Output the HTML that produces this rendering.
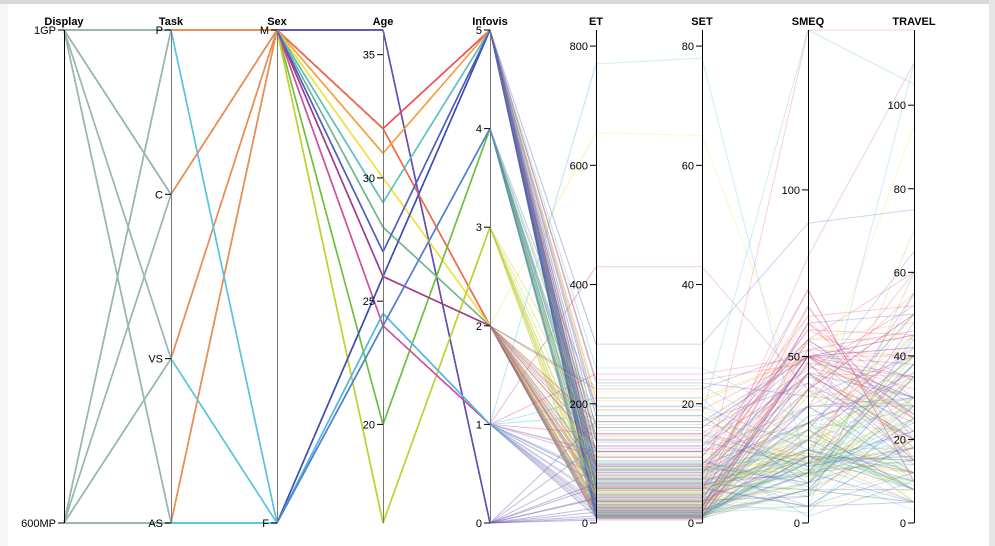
<!DOCTYPE html>
<html><head><meta charset="utf-8">
<style>
html,body{margin:0;padding:0;background:#fff;}
body{width:995px;height:546px;overflow:hidden;position:relative;font-family:"Liberation Sans",sans-serif;}
#frame-top{position:absolute;left:0;top:0;width:995px;height:4px;background:#d8d8d8;}
#frame-right{position:absolute;right:0;top:0;width:6px;height:546px;background:#e6e6e6;}
#frame-left{position:absolute;left:0;top:4px;width:8px;height:542px;background:#f6f6f6;}
svg{position:absolute;left:0;top:0;}
.tick text{font-size:11px;fill:#000;}
.hdr{font-size:8px;font-weight:bold;fill:#000;}
</style></head>
<body>
<div id="frame-top"></div>
<div id="frame-left"></div>
<div id="frame-right"></div>
<svg id="chart" width="995" height="546"></svg>
<script>
// ---- participant data ----
const pDisplay = ["1GP","1GP","600MP","1GP","600MP","1GP","600MP","1GP","600MP","1GP","600MP","1GP","600MP","1GP","600MP"];
const pTask = ["P","C","VS","AS","P","C","AS","VS","P","C","AS","P","VS","AS","C"];
const pSex = ["M","M","M","M","M","M","M","M","M","M","M","F","F","F","M"];
const pAge = [36,32,32,31,30,29,28,20,16,26,24,26,24.5,24,27];
const pInfovis = [0,5,2,5,2,5,2,4,3,2,1,5,1,4,5];
const pColor = ["#6a4fb0","#f0505a","#f06a50","#f5a040","#f0e040","#60c0c0","#70b890","#70c040","#c0d030","#a04090","#d050a0","#4050b0","#50b8e0","#5080d0","#5060c0"];
// ---- trial data ----
const trialP = [0,0,0,0,0,0,0,0,1,1,1,1,1,1,1,1,2,2,2,2,2,2,2,2,3,3,3,3,3,3,3,3,4,4,4,4,4,4,4,4,5,5,5,5,5,5,5,5,6,6,6,6,6,6,6,6,7,7,7,7,7,7,7,7,8,8,8,8,8,8,8,8,9,9,9,9,9,9,9,9,10,10,10,10,10,10,10,10,11,11,11,11,11,11,11,11,12,12,12,12,12,12,12,12,13,13,13,13,13,13,13,13,14,14,14,14,14,14,14,14,
 0,0,0,0,1,1,1,1,2,2,2,2,3,3,3,3,4,4,4,4,5,5,5,5,6,6,6,6,7,7,7,7,8,8,8,8,9,9,9,9,10,10,10,10,11,11,11,11,12,12,12,12,13,13,13,13,14,14,14,14];
const trialET = [12,25,8,40,60,18,90,5, 30,55,14,80,120,22,10,45, 20,35,70,9,150,28,60,15, 40,18,95,7,65,25,210,33, 15,50,28,85,11,655,38,22, 26,44,12,100,70,19,260,35, 9,31,58,16,75,23,47,12, 22,48,13,65,36,90,17,29, 33,14,72,27,105,8,52,40, 18,62,24,88,11,140,37,55, 27,10,46,120,19,68,31,430, 14,38,75,21,58,9,95,43, 770,24,50,16,82,35,12,180, 21,66,13,92,30,48,7,110, 36,17,57,26,99,12,73,300,
 130,42,170,66, 190,85,240,110, 160,52,125,78, 205,95,145,60, 115,175,48,220, 135,88,195,64, 155,72,230,102, 118,58,165,92, 142,76,188,54, 170,98,225,128, 250,112,150,80, 138,62,180,96, 122,68,210,86, 148,74,196,104, 160,84,235,120];
const trialSET = [1.2,2.5,0.8,4,6,1.8,9,0.5, 3,5.5,1.4,8,12,2.2,1,4.5, 2,3.5,7,0.9,15,2.8,6,1.5, 4,1.8,9.5,0.7,6.5,2.5,21,3.3, 1.5,5,2.8,8.5,1.1,65,3.8,2.2, 2.6,4.4,1.2,10,7,1.9,26,3.5, 0.9,3.1,5.8,1.6,7.5,2.3,4.7,1.2, 2.2,4.8,1.3,6.5,3.6,9,1.7,2.9, 3.3,1.4,7.2,2.7,10.5,0.8,5.2,4, 1.8,6.2,2.4,8.8,1.1,14,3.7,5.5, 2.7,1,4.6,12,1.9,6.8,3.1,43, 1.4,3.8,7.5,2.1,5.8,0.9,9.5,4.3, 78,2.4,5,1.6,8.2,3.5,1.2,18, 2.1,6.6,1.3,9.2,3,4.8,0.7,11, 3.6,1.7,5.7,2.6,9.9,1.2,7.3,30,
 13,4.2,17,6.6, 19,8.5,24,11, 16,5.2,12.5,7.8, 20.5,9.5,14.5,6, 11.5,17.5,4.8,22, 13.5,8.8,19.5,6.4, 15.5,7.2,23,10.2, 11.8,5.8,16.5,9.2, 14.2,7.6,18.8,5.4, 17,9.8,22.5,12.8, 25,11.2,15,8, 13.8,6.2,18,9.6, 12.2,6.8,21,8.6, 14.8,7.4,19.6,10.4, 16,8.4,23.5,12];
const trialSMEQ = [20,35,10,50,5,15,48,25, 50,60,40,70,30,55,45,148, 50,25,65,40,20,50,35,10, 45,30,18,55,62,12,50,28, 28,15,40,20,10,33,5,22, 18,25,12,35,8,20,30,16, 22,12,30,18,40,8,25,15, 18,30,22,10,38,15,5,26, 12,25,18,32,8,20,28,15, 50,40,65,30,48,55,20,70, 50,45,60,35,52,25,80,40, 20,8,35,15,5,28,12,45, 15,5,22,10,30,3,18,148, 18,10,25,5,32,15,40,2, 35,50,20,60,45,10,28,90,
 50,18,42,15, 50,58,48,62, 50,52,20,45, 50,55,40,22, 20,18,25,15, 17,22,14,28, 16,20,24,12, 15,19,26,21, 18,16,14,22, 50,47,52,44, 50,54,46,58, 17,22,12,30, 16,20,9,25, 18,14,22,11, 50,42,38,55];
const trialTRAVEL = [15,30,8,45,20,5,35,12, 40,25,50,10,35,60,20,118, 30,45,15,55,5,25,40,20, 20,10,35,48,15,70,25,8, 12,28,5,40,18,95,8,30, 25,8,40,15,55,10,30,3, 18,35,5,22,10,45,28,15, 10,22,38,5,28,15,60,12, 30,8,18,45,12,25,5,38, 35,50,20,42,15,28,55,10, 45,15,30,60,25,40,110,20, 8,25,12,38,5,50,18,30, 110,20,8,35,15,28,5,105, 22,5,40,12,30,18,65,10, 28,42,15,50,20,35,8,75,
 22,38,14,48, 32,45,18,52, 26,40,12,35, 18,44,28,50, 15,24,33,10, 20,12,36,27, 14,30,8,42, 25,16,34,9, 12,28,20,40, 38,30,46,24, 42,26,52,34, 18,10,28,36, 22,14,30,8, 16,24,12,44, 30,20,40,26];
// ---- axis labels / ticks ----
const axisNames = ["Display","Task","Sex","Age","Infovis","ET","SET","SMEQ","TRAVEL"];
const displayCats = ["1GP","600MP"];
const taskCats = ["P","C","VS","AS"];
const sexCats = ["M","F"];
const ageTicks = [20,25,30,35];
const infovisTicks = [0,1,2,3,4,5];
const etTicks = [0,200,400,600,800];
const setTicks = [0,20,40,60,80];
const smeqTicks = [0,50,100];
const travelTicks = [0,20,40,60,80,100];

const NS="http://www.w3.org/2000/svg";
const svg=document.getElementById('chart');
const TOP=30, BOT=523;
const axisX=[64,171,277,383,490,596,702,808,914];
function lin(min,max){return v=>BOT-(v-min)/(max-min)*(BOT-TOP);}
function cat(list){return v=>TOP+list.indexOf(v)/(list.length-1)*(BOT-TOP);}
const scales=[cat(displayCats),cat(taskCats),cat(sexCats),lin(16,36),lin(0,5),lin(0,827),lin(0,82.7),lin(0,148),lin(0,118)];
function mk(tag,attrs,parent){const e=document.createElementNS(NS,tag);for(const k in attrs)e.setAttribute(k,attrs[k]);(parent||svg).appendChild(e);return e;}

const gLines=mk('g',{});


for(let i=0;i<trialP.length;i++){
  const p=trialP[i];
  const vals=[pDisplay[p],pTask[p],pSex[p],pAge[p],pInfovis[p],trialET[i],trialSET[i],trialSMEQ[i],trialTRAVEL[i]];
  const ys=vals.map((v,k)=>scales[k](v));
  for(let s=0;s<8;s++){
    let col=pColor[p],op=0.28,w=1;
    if(s===0){col='#98b8b0';op=0.7;w=1.3;}
    else if(s===1){col=pSex[p]==='M'?'#e8905a':'#58c4e0';op=0.7;w=1.3;}
    else if(s<4){op=0.75;w=1.3;}
    else if(s===4){op=0.4;}
    const l=mk('line',{x1:axisX[s],y1:ys[s],x2:axisX[s+1],y2:ys[s+1],stroke:col,'stroke-opacity':op,'stroke-width':w},gLines);
    
    
  }
}

function drawAxis(k,ticks){
  const g=mk('g',{class:'tick'});
  
  
  const x=axisX[k];
  mk('line',{x1:x+0.5,y1:TOP,x2:x+0.5,y2:BOT,stroke:(k===0||k>=5)?'#000':'#777','stroke-width':1},g);
  ticks.forEach(t=>{
    const y=scales[k](t);
    mk('line',{x1:x-6,y1:y,x2:x,y2:y,stroke:'#000'},g);
    const tx=mk('text',{x:x-8,y:y+4,'text-anchor':'end'},g);
    tx.textContent=t;
    
    
  });
  const h=mk('text',{x:x,y:25,'text-anchor':'middle',class:'hdr'},g);
  h.textContent=axisNames[k];
  
  
}
drawAxis(0,displayCats);
drawAxis(1,taskCats);
drawAxis(2,sexCats);
drawAxis(3,ageTicks);
drawAxis(4,infovisTicks);
drawAxis(5,etTicks);
drawAxis(6,setTicks);
drawAxis(7,smeqTicks);
drawAxis(8,travelTicks);
</script>
</body></html>
